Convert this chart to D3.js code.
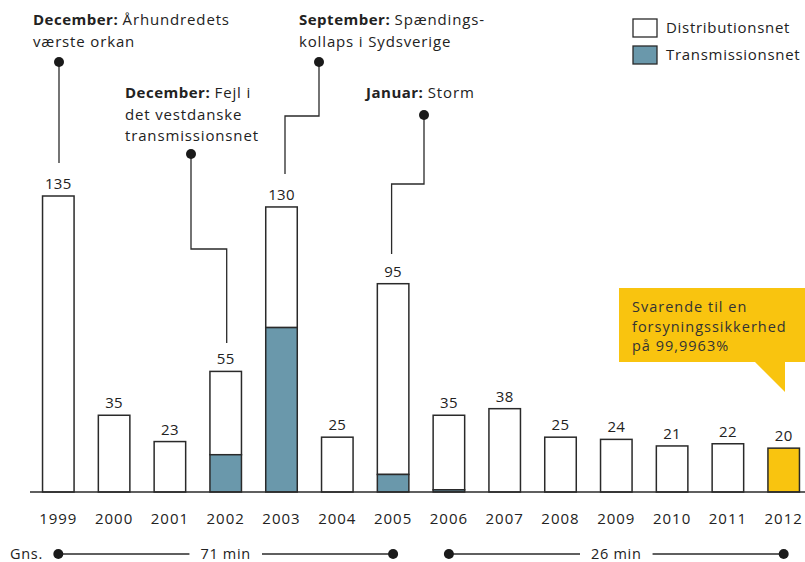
<!DOCTYPE html>
<html><head><meta charset="utf-8">
<script src="https://cdn.jsdelivr.net/npm/d3@7"></script>
<style>
html,body{margin:0;padding:0;background:#fff;}
svg text{font-family:"Open Sans",sans-serif;fill:#222;letter-spacing:0.7px;}
</style></head>
<body><svg id="c" width="805" height="562"></svg>
<script>
const years = ["1999","2000","2001","2002","2003","2004","2005","2006","2007","2008","2009","2010","2011","2012"];
const totals = [135,35,23,55,130,25,95,35,38,25,24,21,22,20];
const transmission = [0,0,0,17,75,0,8,1,0,0,0,0,0,0];
const distribution = totals.map((t,i)=>t-transmission[i]);
const legendLabels = ["Distributionsnet","Transmissionsnet"];
const averages = [{from:"1999",to:"2005",label:"71 min"},{from:"2006",to:"2012",label:"26 min"}];
const annotations = [
  {year:"1999", bold:"December:", lines:["Århundredets","værste orkan"]},
  {year:"2002", bold:"December:", lines:["Fejl i","det vestdanske","transmissionsnet"]},
  {year:"2003", bold:"September:", lines:["Spændings-","kollaps i Sydsverige"]},
  {year:"2005", bold:"Januar:", lines:["Storm"]}
];
const calloutLines = ["Svarende til en","forsyningssikkerhed","på 99,9963%"];

const BLUE="#6a98ab", YELLOW="#f9c40f", DARK="#2a2a2a";
const svg = d3.select("#c");
const x = d3.scaleBand().domain(years).range([30.4, 811.6]).paddingInner(0.435).paddingOuter(0.2175);
const y = d3.scaleLinear().domain([0,135]).range([492,196]);
const cx = yv => x(yv) + x.bandwidth()/2;

// callout (behind)
const cb = svg.append("g");
cb.append("path").attr("d", `M619,288H805V362H785V392L755,362H619Z`).attr("fill", YELLOW);
cb.selectAll("text").data(calloutLines).join("text")
  .attr("x",632).attr("y",(d,i)=>312+i*19.5).attr("font-size",14.5).style("letter-spacing","1px").style("fill","#333").text(d=>d);

// bars
const g = svg.append("g");
years.forEach((yr,i)=>{
  const last = i===years.length-1;
  g.append("rect").attr("x",x(yr)).attr("width",x.bandwidth())
    .attr("y",y(totals[i])).attr("height",y(transmission[i])-y(totals[i]))
    .attr("fill", last?YELLOW:"#fff").attr("stroke",DARK).attr("stroke-width",1.5);
  if(transmission[i]>0){
    g.append("rect").attr("x",x(yr)).attr("width",x.bandwidth())
      .attr("y",y(transmission[i])).attr("height",y(0)-y(transmission[i]))
      .attr("fill",BLUE).attr("stroke",DARK).attr("stroke-width",1.5);
  }
  g.append("text").attr("x",cx(yr)).attr("y",y(totals[i])-7).attr("text-anchor","middle")
    .attr("font-size",15).style("letter-spacing","0.3px").text(totals[i]);
});
// baseline
svg.append("line").attr("x1",30).attr("x2",805).attr("y1",y(0)).attr("y2",y(0)).attr("stroke",DARK).attr("stroke-width",1.5);
// axis
const ax = svg.append("g").attr("transform",`translate(0,${y(0)})`).call(d3.axisBottom(x).tickSize(0).tickPadding(21));
ax.select(".domain").remove();
ax.selectAll("text").attr("font-size",15).style("font-family","'Open Sans',sans-serif").style("letter-spacing","1px").style("fill","#222");

// averages
svg.append("text").attr("x",10).attr("y",559).attr("font-size",14.5).text("Gns.");
averages.forEach(a=>{
  const x1=cx(a.from), x2=cx(a.to), mid=(x1+x2)/2, yy=554;
  const t = svg.append("text").attr("x",mid).attr("y",yy+5).attr("text-anchor","middle").attr("font-size",14.5).text(a.label);
  const w = t.node().getComputedTextLength()/2+11;
  svg.append("line").attr("x1",x1).attr("x2",mid-w).attr("y1",yy).attr("y2",yy).attr("stroke",DARK).attr("stroke-width",1.3);
  svg.append("line").attr("x1",mid+w).attr("x2",x2).attr("y1",yy).attr("y2",yy).attr("stroke",DARK).attr("stroke-width",1.3);
  [x1,x2].forEach(px=>svg.append("circle").attr("cx",px).attr("cy",yy).attr("r",5).attr("fill","#1a1a1a"));
});

// annotations: text position, dot, elbow path
const annLayout = [
  {tx:33, ty:25, dot:[59,62], path:yr=>[[59,62],[59,163]]},
  {tx:125, ty:98, dot:[191,154], path:yr=>[[191,154],[191,249],[cx(yr)+1,249],[cx(yr)+1,343]]},
  {tx:299, ty:25, dot:[319,62], path:yr=>[[319,62],[319,116],[285,116],[285,174]]},
  {tx:366, ty:98, dot:[424,115], path:yr=>[[424,115],[424,184],[cx(yr)-1.5,184],[cx(yr)-1.5,254]]}
];
annotations.forEach((a,i)=>{
  const L = annLayout[i];
  const t = svg.append("text").attr("x",L.tx).attr("y",L.ty).attr("font-size",15).style("letter-spacing","0.85px");
  a.lines.forEach((ln,j)=>{
    if(j===0){
      t.append("tspan").attr("font-weight","bold").style("letter-spacing","0.5px").text(a.bold+" ");
      t.append("tspan").text(ln);
    } else {
      t.append("tspan").attr("x",L.tx).attr("dy",21.5).text(ln);
    }
  });
  svg.append("path").attr("d",d3.line()(L.path(a.year))).attr("fill","none").attr("stroke",DARK).attr("stroke-width",1.3);
  svg.append("circle").attr("cx",L.dot[0]).attr("cy",L.dot[1]).attr("r",5).attr("fill","#1a1a1a");
});

// legend
const lg = svg.append("g");
[["#fff",19],[BLUE,46]].forEach((d,i)=>{
  lg.append("rect").attr("x",633).attr("y",d[1]).attr("width",24).attr("height",18).attr("fill",d[0]).attr("stroke",DARK).attr("stroke-width",1.3);
  lg.append("text").attr("x",666).attr("y",d[1]+14).attr("font-size",15).text(legendLabels[i]);
});
</script></body></html>
